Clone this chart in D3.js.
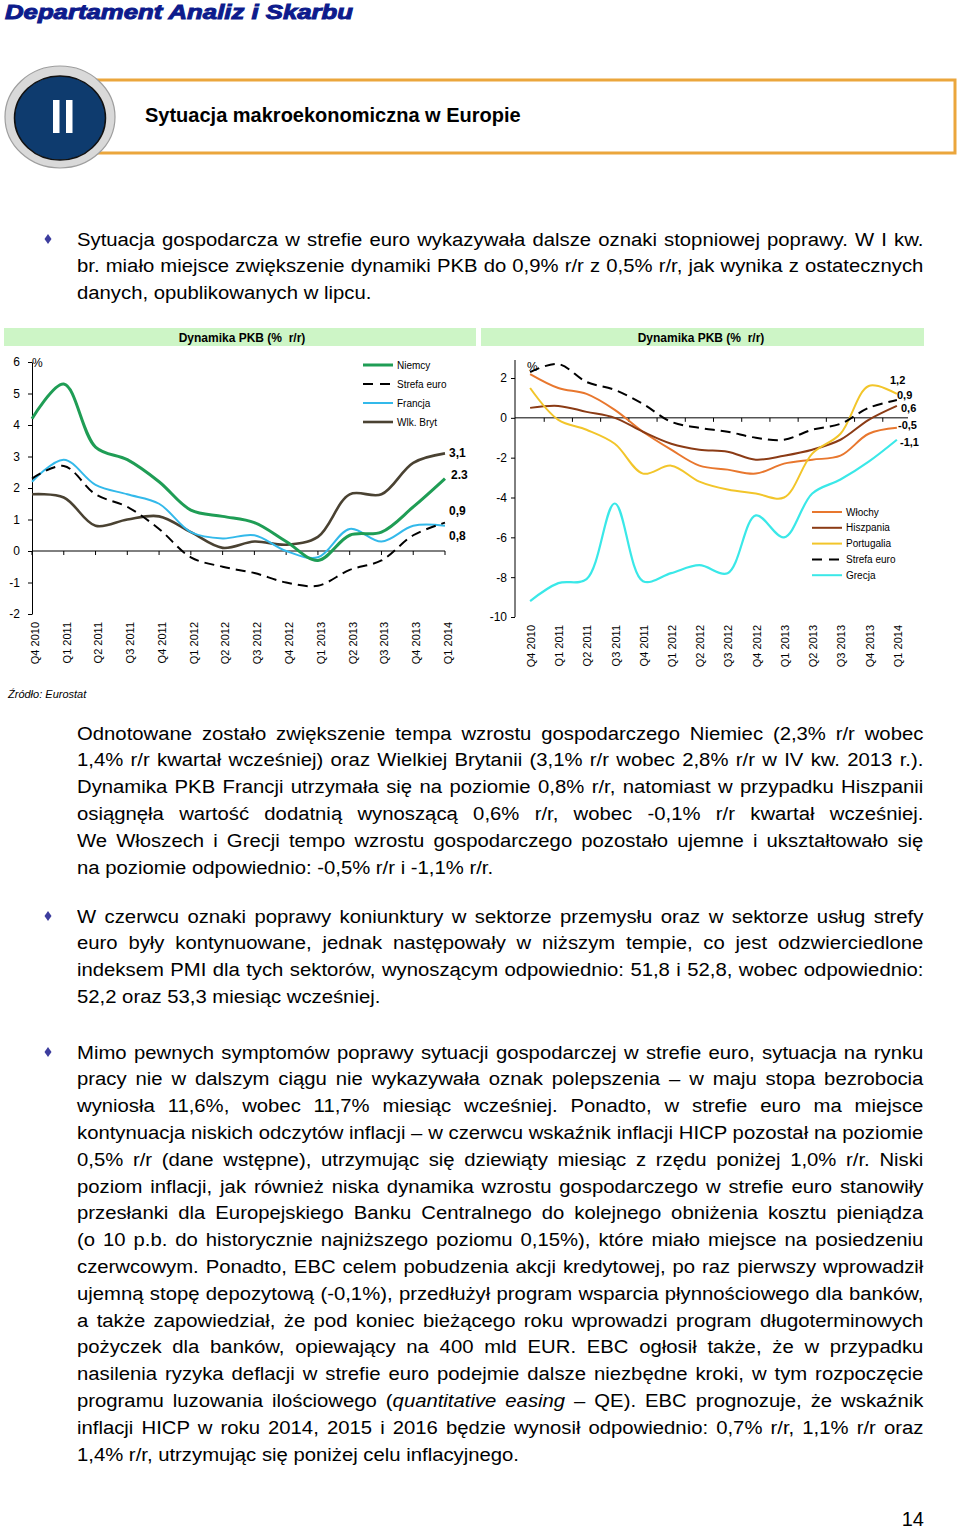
<!DOCTYPE html>
<html>
<head>
<meta charset="utf-8">
<script src="https://cdn.jsdelivr.net/npm/d3@7"></script>
<style>
  html, body { margin: 0; padding: 0; background: #fff; }
  body { width: 960px; height: 1529px; position: relative; overflow: hidden; font-family: "Liberation Sans", Arial, sans-serif; }
  svg { position: absolute; left: 0; top: 0; }
  .para { position: absolute; left: 77px; width: 751px; font-size: 18px; line-height: 26.8px; color: #000;
          transform: scaleX(1.127); transform-origin: 0 0; }
  .para div { text-align: justify; text-align-last: justify; white-space: nowrap; }
  .para div.last { text-align-last: left; }
</style>
</head>
<body>
<svg id="page" width="960" height="1529"></svg>
<div id="texts"></div>
<script>
// ---------- data ----------
const quarters = ["Q4 2010","Q1 2011","Q2 2011","Q3 2011","Q4 2011","Q1 2012","Q2 2012","Q3 2012","Q4 2012","Q1 2013","Q2 2013","Q3 2013","Q4 2013","Q1 2014"];

// Left chart
const niemcy     = [4.2, 5.3, 3.3, 2.9, 2.2, 1.3, 1.1, 0.9, 0.3, -0.3, 0.5, 0.6, 1.4, 2.3];
const strefaEuro = [2.3, 2.7, 1.8, 1.4, 0.7, -0.2, -0.5, -0.7, -1.0, -1.1, -0.6, -0.3, 0.5, 0.9];
const francja    = [2.2, 2.9, 2.1, 1.8, 1.5, 0.6, 0.4, 0.5, 0.0, -0.2, 0.7, 0.3, 0.8, 0.8];
const wlkBryt    = [1.8, 1.7, 0.8, 1.0, 1.1, 0.6, 0.1, 0.3, 0.2, 0.45, 1.8, 1.8, 2.8, 3.1];
const leftTicks  = [-2, -1, 0, 1, 2, 3, 4, 5, 6];
const leftEndLabels = ["3,1", "2.3", "0,9", "0,8"];

// Right chart
const wlochy     = [2.2, 1.5, 1.2, 0.4, -0.7, -1.6, -2.4, -2.6, -2.8, -2.3, -2.1, -1.9, -0.8, -0.5];
const hiszpania  = [0.5, 0.6, 0.3, 0.0, -0.7, -1.3, -1.6, -1.7, -2.1, -1.9, -1.6, -1.1, -0.1, 0.6];
const portugalia = [1.5, -0.1, -0.6, -1.3, -2.8, -2.4, -3.2, -3.6, -3.8, -4.0, -1.8, -0.8, 1.6, 1.2];
const grecja     = [-9.2, -8.3, -8.1, -4.3, -8.2, -7.8, -7.4, -7.8, -4.9, -6.0, -3.8, -3.1, -2.2, -1.1];
const rightTicks = [-10, -8, -6, -4, -2, 0, 2];
const rightEndLabels = ["1,2", "0,9", "0,6", "-0,5", "-1,1"];

// ---------- page ----------
const svg = d3.select("#page");
const FONT = "Liberation Sans, Arial, sans-serif";

// header
svg.append("text").attr("x", 5).attr("y", 19)
  .attr("font-family", FONT).attr("font-size", 21).attr("font-weight", "bold").attr("font-style", "italic")
  .attr("fill", "#0d1b8c").attr("stroke", "#0d1b8c").attr("stroke-width", 1)
  .attr("textLength", 348).attr("lengthAdjust", "spacingAndGlyphs")
  .text("Departament Analiz i Skarbu");

// orange box
svg.append("path").attr("d", "M95,80 H955 V153 H95")
  .attr("fill", "#fff").attr("stroke", "#eba63c").attr("stroke-width", 3);

// circle badge
svg.append("ellipse").attr("cx", 60).attr("cy", 117).attr("rx", 55).attr("ry", 51)
  .attr("fill", "#d9d9d9").attr("stroke", "#9e9e9e").attr("stroke-width", 1.2);
svg.append("ellipse").attr("cx", 60).attr("cy", 118).attr("rx", 45.5).attr("ry", 42)
  .attr("fill", "#0e3b6e").attr("stroke", "#111").attr("stroke-width", 1.5);
svg.append("rect").attr("x", 53).attr("y", 100).attr("width", 6.5).attr("height", 33).attr("fill", "#fff");
svg.append("rect").attr("x", 66).attr("y", 100).attr("width", 6.5).attr("height", 33).attr("fill", "#fff");

svg.append("text").attr("x", 145).attr("y", 122)
  .attr("font-family", FONT).attr("font-size", 20).attr("font-weight", "bold").attr("fill", "#000")
  .text("Sytuacja makroekonomiczna w Europie");

// bullets
function diamond(cx, cy) {
  svg.append("path").attr("d", `M${cx},${cy-5} L${cx+3.5},${cy} L${cx},${cy+5} L${cx-3.5},${cy} Z`)
    .attr("fill", "#3d3d9e");
}
diamond(48, 239);
diamond(48, 916);
diamond(48, 1052);

// ---------- chart titles ----------
svg.append("rect").attr("x", 4).attr("y", 328).attr("width", 472).attr("height", 18).attr("fill", "#cdf5c6");
svg.append("rect").attr("x", 481).attr("y", 328).attr("width", 443).attr("height", 18).attr("fill", "#cdf5c6");
svg.append("text").attr("x", 242).attr("y", 342).attr("text-anchor", "middle")
  .attr("font-family", FONT).attr("font-size", 12).attr("font-weight", "bold").attr("xml:space", "preserve")
  .text("Dynamika PKB (%  r/r)");
svg.append("text").attr("x", 701).attr("y", 342).attr("text-anchor", "middle")
  .attr("font-family", FONT).attr("font-size", 12).attr("font-weight", "bold").attr("xml:space", "preserve")
  .text("Dynamika PKB (%  r/r)");

const smooth = d3.curveCatmullRom.alpha(0.5);
const fmt = d => String(d);

// ---------- left chart ----------
{
  const g = svg.append("g");
  const x = d3.scalePoint().domain(quarters).range([32, 445]);
  const y = d3.scaleLinear().domain([-2, 6]).range([614, 362]);

  const ya = g.append("g").attr("transform", "translate(32,0)")
    .call(d3.axisLeft(y).tickValues(leftTicks).tickSize(4).tickSizeOuter(0).tickFormat(fmt));
  ya.select(".domain").attr("stroke", "#000").attr("stroke-width", 1);
  ya.selectAll(".tick line").attr("stroke", "#000");
  ya.selectAll(".tick text").attr("x", -12).attr("font-family", FONT).attr("font-size", 12).attr("fill", "#000");

  g.append("text").attr("x", 32).attr("y", 367).attr("font-family", FONT).attr("font-size", 12).text("%");

  g.append("line").attr("x1", 32).attr("x2", 445).attr("y1", y(0)).attr("y2", y(0)).attr("stroke", "#000");
  g.selectAll(".xt").data(quarters).join("line")
    .attr("x1", d => x(d)).attr("x2", d => x(d)).attr("y1", y(0)).attr("y2", y(0) + 4).attr("stroke", "#000");

  g.selectAll(".xl").data(quarters).join("text")
    .attr("transform", d => `translate(${x(d) + 3},${622}) rotate(-90)`)
    .attr("text-anchor", "end").attr("dy", "0.35em")
    .attr("font-family", FONT).attr("font-size", 11).text(d => d);

  const line = d3.line().x((d, i) => x(quarters[i])).y(d => y(d)).curve(smooth);
  const series = [
    { name: "Niemcy", v: niemcy, c: "#1f9d55", w: 3, dash: null },
    { name: "Strefa euro", v: strefaEuro, c: "#000", w: 2, dash: "10,6" },
    { name: "Francja", v: francja, c: "#33b9ea", w: 2, dash: null },
    { name: "Wlk. Bryt", v: wlkBryt, c: "#4a4232", w: 2.6, dash: null }
  ];
  [3, 2, 1, 0].forEach(i => {
    const s = series[i];
    g.append("path").datum(s.v).attr("d", line).attr("fill", "none")
      .attr("stroke", s.c).attr("stroke-width", s.w).attr("stroke-dasharray", s.dash)
      .attr("stroke-linejoin", "round");
  });

  series.forEach((s, i) => {
    const ly = 365 + i * 19;
    g.append("line").attr("x1", 363).attr("x2", 393).attr("y1", ly).attr("y2", ly)
      .attr("stroke", s.c).attr("stroke-width", s.w).attr("stroke-dasharray", s.dash ? "10,7" : null);
    g.append("text").attr("x", 397).attr("y", ly).attr("dy", "0.35em")
      .attr("font-family", FONT).attr("font-size", 10).text(s.name);
  });

  const lp = [[449, 453], [451, 475], [449, 511], [449, 536]];
  leftEndLabels.forEach((t, i) => {
    g.append("text").attr("x", lp[i][0]).attr("y", lp[i][1]).attr("dy", "0.35em")
      .attr("font-family", FONT).attr("font-size", 12).attr("font-weight", "bold").text(t);
  });
}

// ---------- right chart ----------
{
  const g = svg.append("g");
  const x = d3.scalePoint().domain(quarters).range([516, 911]).padding(0.5);
  const step = x.step();
  const y = d3.scaleLinear().domain([-10, 2]).range([617, 378]);

  const ya = g.append("g").attr("transform", "translate(515,0)")
    .call(d3.axisLeft(y).tickValues(rightTicks).tickSize(4).tickSizeOuter(0).tickFormat(fmt));
  ya.select(".domain").attr("stroke", "#000").attr("d", `M-0,${y(-10)}V360`);
  ya.selectAll(".tick line").attr("stroke", "#000");
  ya.selectAll(".tick text").attr("x", -8).attr("font-family", FONT).attr("font-size", 12).attr("fill", "#000");

  g.append("text").attr("x", 527).attr("y", 371).attr("font-family", FONT).attr("font-size", 12).text("%");

  g.append("line").attr("x1", 515).attr("x2", 908).attr("y1", y(0)).attr("y2", y(0)).attr("stroke", "#000");
  g.selectAll(".xt").data(quarters.slice(0, -1)).join("line")
    .attr("x1", d => x(d) + step / 2).attr("x2", d => x(d) + step / 2)
    .attr("y1", y(0)).attr("y2", y(0) + 4).attr("stroke", "#000");

  g.selectAll(".xl").data(quarters).join("text")
    .attr("transform", d => `translate(${x(d) + 1},${625}) rotate(-90)`)
    .attr("text-anchor", "end").attr("dy", "0.35em")
    .attr("font-family", FONT).attr("font-size", 11).text(d => d);

  const line = d3.line().x((d, i) => x(quarters[i])).y(d => y(d)).curve(smooth);
  const series = [
    { name: "Włochy", v: wlochy, c: "#e8772e", w: 2, dash: null },
    { name: "Hiszpania", v: hiszpania, c: "#8b3b15", w: 2, dash: null },
    { name: "Portugalia", v: portugalia, c: "#f2c52a", w: 2, dash: null },
    { name: "Strefa euro", v: strefaEuro, c: "#000", w: 2, dash: "10,6" },
    { name: "Grecja", v: grecja, c: "#3ae8e8", w: 2.2, dash: null }
  ];
  series.forEach(s => {
    g.append("path").datum(s.v).attr("d", line).attr("fill", "none")
      .attr("stroke", s.c).attr("stroke-width", s.w).attr("stroke-dasharray", s.dash)
      .attr("stroke-linejoin", "round");
  });

  series.forEach((s, i) => {
    const ly = 512 + i * 15.8;
    g.append("line").attr("x1", 812).attr("x2", 842).attr("y1", ly).attr("y2", ly)
      .attr("stroke", s.c).attr("stroke-width", 2).attr("stroke-dasharray", s.dash ? "10,7" : null);
    g.append("text").attr("x", 846).attr("y", ly).attr("dy", "0.35em")
      .attr("font-family", FONT).attr("font-size", 10).text(s.name);
  });

  const rp = [[890, 380], [897, 395], [901, 408], [898, 425], [900, 442]];
  rightEndLabels.forEach((t, i) => {
    g.append("text").attr("x", rp[i][0]).attr("y", rp[i][1]).attr("dy", "0.35em")
      .attr("font-family", FONT).attr("font-size", 11).attr("font-weight", "bold").text(t);
  });
}

// source
svg.append("text").attr("x", 8).attr("y", 698).attr("font-family", FONT).attr("font-size", 11)
  .attr("font-style", "italic").text("Źródło: Eurostat");

// page number
svg.append("text").attr("x", 924).attr("y", 1526).attr("text-anchor", "end")
  .attr("font-family", FONT).attr("font-size", 20).text("14");

// ---------- paragraphs ----------
const para1 = [
  "Sytuacja gospodarcza w strefie euro wykazywała dalsze oznaki stopniowej poprawy. W I kw.",
  "br. miało miejsce zwiększenie dynamiki PKB do 0,9% r/r z 0,5% r/r, jak wynika z ostatecznych",
  "danych, opublikowanych w lipcu."
];
const para2 = [
  "Odnotowane zostało zwiększenie tempa wzrostu gospodarczego Niemiec (2,3% r/r wobec",
  "1,4% r/r kwartał wcześniej) oraz Wielkiej Brytanii (3,1% r/r wobec 2,8% r/r w IV kw. 2013 r.).",
  "Dynamika PKB Francji utrzymała się na poziomie 0,8% r/r, natomiast w przypadku Hiszpanii",
  "osiągnęła wartość dodatnią wynoszącą 0,6% r/r, wobec -0,1% r/r kwartał wcześniej.",
  "We Włoszech i Grecji tempo wzrostu gospodarczego pozostało ujemne i ukształtowało się",
  "na poziomie odpowiednio: -0,5% r/r i -1,1% r/r."
];
const para3 = [
  "W czerwcu oznaki poprawy koniunktury w sektorze przemysłu oraz w sektorze usług strefy",
  "euro były kontynuowane, jednak następowały w niższym tempie, co jest odzwierciedlone",
  "indeksem PMI dla tych sektorów, wynoszącym odpowiednio: 51,8 i 52,8, wobec odpowiednio:",
  "52,2 oraz 53,3 miesiąc wcześniej."
];
const para4 = [
  "Mimo pewnych symptomów poprawy sytuacji gospodarczej w strefie euro, sytuacja na rynku",
  "pracy nie w dalszym ciągu nie wykazywała oznak polepszenia – w maju stopa bezrobocia",
  "wyniosła 11,6%, wobec 11,7% miesiąc wcześniej. Ponadto, w strefie euro ma miejsce",
  "kontynuacja niskich odczytów inflacji – w czerwcu wskaźnik inflacji HICP pozostał na poziomie",
  "0,5% r/r (dane wstępne), utrzymując się dziewiąty miesiąc z rzędu poniżej 1,0% r/r.  Niski",
  "poziom inflacji, jak również niska dynamika wzrostu gospodarczego w strefie euro stanowiły",
  "przesłanki dla Europejskiego Banku Centralnego do kolejnego obniżenia kosztu pieniądza",
  "(o 10 p.b. do historycznie najniższego poziomu 0,15%), które miało miejsce na posiedzeniu",
  "czerwcowym. Ponadto, EBC celem pobudzenia akcji kredytowej, po raz pierwszy wprowadził",
  "ujemną stopę depozytową (-0,1%), przedłużył program wsparcia płynnościowego dla banków,",
  "a także zapowiedział, że pod koniec bieżącego roku wprowadzi program długoterminowych",
  "pożyczek dla banków, opiewający na 400 mld EUR. EBC ogłosił także, że w przypadku",
  "nasilenia ryzyka deflacji w strefie euro podejmie dalsze niezbędne kroki, w tym rozpoczęcie",
  "programu luzowania ilościowego (<i>quantitative easing</i> – QE). EBC prognozuje, że wskaźnik",
  "inflacji HICP w roku 2014, 2015 i 2016 będzie wynosił odpowiednio: 0,7% r/r, 1,1% r/r oraz",
  "1,4% r/r, utrzymując się poniżej celu inflacyjnego."
];

function addPara(lines, centerY) {
  const div = d3.select("#texts").append("div").attr("class", "para")
    .style("top", (centerY - 13.4) + "px");
  lines.forEach((l, i) => {
    div.append("div").attr("class", i === lines.length - 1 ? "last" : "").html(l);
  });
}
addPara(para1, 240);
addPara(para2, 734);
addPara(para3, 917);
addPara(para4, 1053);
</script>
</body>
</html>
